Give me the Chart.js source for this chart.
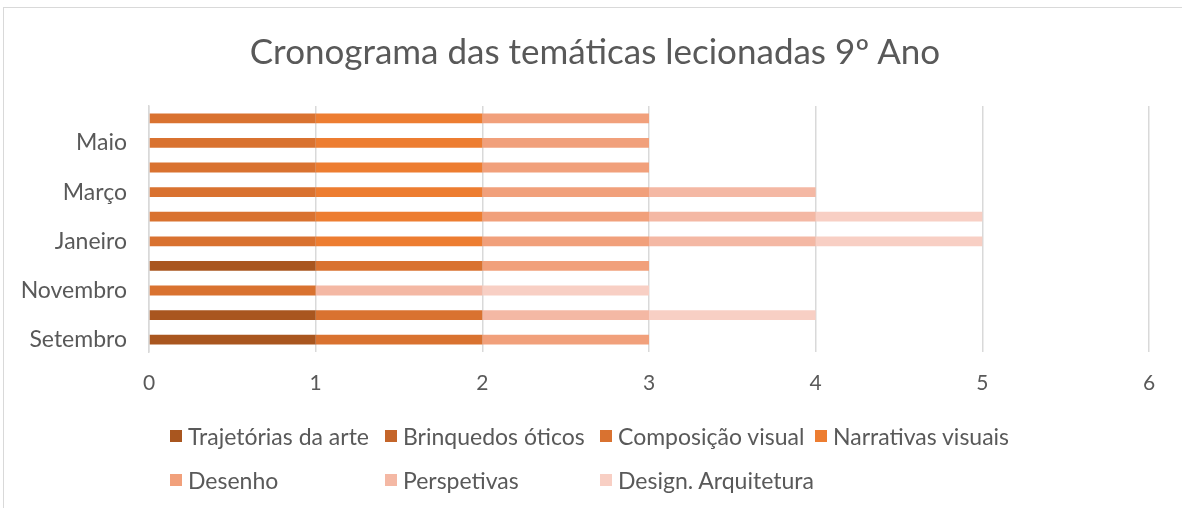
<!DOCTYPE html>
<html>
<head>
<meta charset="utf-8">
<script src="https://cdn.jsdelivr.net/npm/chart.js@4"></script>
<style>
  body { margin: 0; background: #fff; overflow: hidden; }
  #wrap { position: relative; width: 1182px; height: 508px; }
  #frame { position: absolute; left: 3px; top: 7px; width: 1200px; height: 520px; border: 1px solid #D9D9D9; }
  #titulo { position: absolute; left: 8px; top: 29px; width: 1174px; text-align: center;
            font-family: Lato, sans-serif; font-size: 35px; line-height: 42px; color: #595959; }
  #legend { position: absolute; left: 170px; top: 422px; display: grid;
            grid-template-columns: repeat(4, 215px); row-gap: 16px;
            font-family: Lato, sans-serif; font-size: 23px; color: #595959; }
  #legend div { display: flex; align-items: center; height: 28px; white-space: nowrap; }
  #legend span.box { width: 12px; height: 12px; margin-right: 6px; display: inline-block; }
</style>
</head>
<body>
<div id="wrap">
  <div id="frame"></div>
  <canvas id="cronograma" width="1182" height="508"></canvas>
  <div id="titulo"></div>
  <div id="legend"></div>
</div>
<script>
// months, bottom to top
const meses = ['Setembro', 'Outubro', 'Novembro', 'Dezembro', 'Janeiro', 'Fevereiro', 'Março', 'Abril', 'Maio', 'Junho'];

// one value per month (1 = theme taught that month)
const trajetorias  = [1, 1, 0, 1, 0, 0, 0, 0, 0, 0];
const brinquedos   = [0, 0, 0, 0, 0, 0, 0, 0, 0, 0];
const composicao   = [1, 1, 1, 1, 1, 1, 1, 1, 1, 1];
const narrativas   = [0, 0, 0, 0, 1, 1, 1, 1, 1, 1];
const desenho      = [1, 0, 0, 1, 1, 1, 1, 1, 1, 1];
const perspetivas  = [0, 1, 1, 0, 1, 1, 1, 0, 0, 0];
const design       = [0, 1, 1, 0, 1, 1, 0, 0, 0, 0];

const xTicks = [0, 1, 2, 3, 4, 5, 6];

const titulo = 'Cronograma das temáticas lecionadas 9º Ano';

const series = [
    { label: 'Trajetórias da arte', data: trajetorias, color: '#A9561F' },
    { label: 'Brinquedos óticos', data: brinquedos, color: '#C4652A' },
    { label: 'Composição visual', data: composicao, color: '#D97230' },
    { label: 'Narrativas visuais', data: narrativas, color: '#ED7D31' },
    { label: 'Desenho', data: desenho, color: '#F1A07B' },
    { label: 'Perspetivas', data: perspetivas, color: '#F4B8A4' },
    { label: 'Design. Arquitetura', data: design, color: '#F8CFC4' }
];

const txt = '#595959';
const font = 'Lato, sans-serif';

const config = {
    type: 'bar',
    data: {
        labels: meses,
        datasets: series.map(s => ({
            label: s.label,
            data: s.data,
            backgroundColor: s.color,
            borderWidth: 0,
            categoryPercentage: 0.8,
            barPercentage: 0.5
        }))
    },
    options: {
        indexAxis: 'y',
        responsive: false,
        animation: false,
        layout: { padding: { left: 0, right: 33, top: 106, bottom: 116 } },
        plugins: {
            legend: { display: false },
            tooltip: { enabled: false },
            title: { display: false }
        },
        scales: {
            x: {
                stacked: true,
                min: 0,
                max: 6,
                afterBuildTicks: axis => { axis.ticks = xTicks.map(v => ({ value: v })); },
                afterFit: axis => { axis.height = 40; },
                ticks: { color: txt, font: { family: font, size: 21 }, padding: 19 },
                grid: { color: '#D9D9D9', lineWidth: 1.5, drawTicks: false },
                border: { display: false }
            },
            y: {
                stacked: true,
                reverse: true,
                afterFit: axis => { axis.width = 149; },
                ticks: {
                    autoSkip: false,
                    color: txt,
                    font: { family: font, size: 23 },
                    padding: 22,
                    callback: function (v, i) { return i % 2 === 0 ? this.getLabelForValue(v) : ''; }
                },
                grid: { display: false, drawTicks: false },
                border: { display: true, color: '#D9D9D9', width: 1.5 }
            }
        }
    }
};

new Chart(document.getElementById('cronograma'), config);

// title centred on the frame, as in the original
document.getElementById('titulo').textContent = titulo;

// legend laid out in a grid like the original
const legend = document.getElementById('legend');
series.forEach(s => {
    const item = document.createElement('div');
    const box = document.createElement('span');
    box.className = 'box';
    box.style.background = s.color;
    item.appendChild(box);
    item.appendChild(document.createTextNode(s.label));
    legend.appendChild(item);
});
</script>
</body>
</html>
